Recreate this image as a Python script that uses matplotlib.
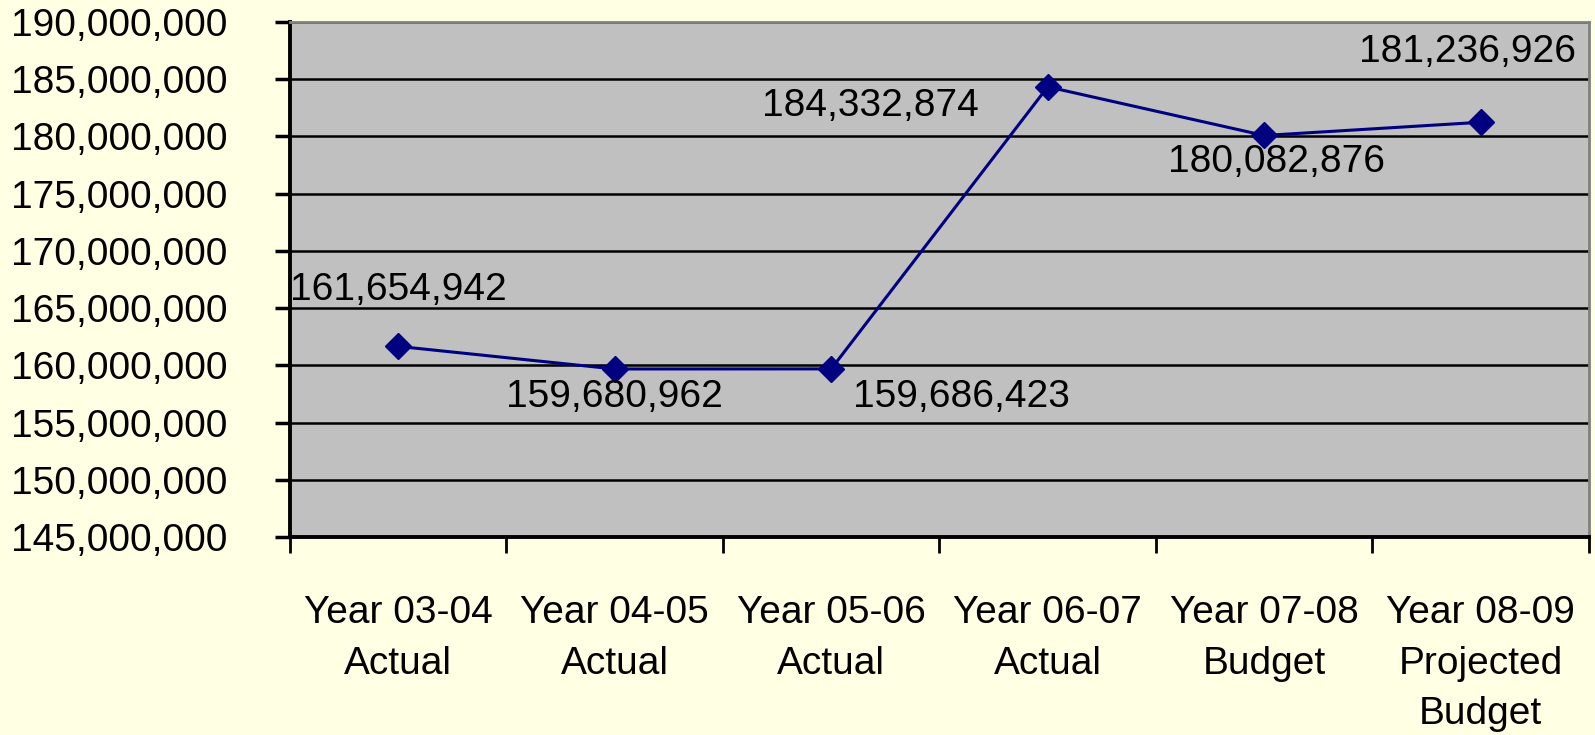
import matplotlib.pyplot as plt
from matplotlib.ticker import FuncFormatter, FixedLocator

plt.rcParams['font.family'] = ['Liberation Sans', 'DejaVu Sans']

years = ["Year 03-04\nActual", "Year 04-05\nActual", "Year 05-06\nActual",
         "Year 06-07\nActual", "Year 07-08\nBudget", "Year 08-09\nProjected\nBudget"]
amounts = [161654942, 159680962, 159686423, 184332874, 180082876, 181236926]
# label offsets in pixels from each point
label_offsets = [(0, 56), (0, -28), (130, -28), (-177, -19), (12, -27), (-13, 70)]

bg = "#FFFFE3"
fs = 28
fig = plt.figure(figsize=(15.95, 7.35), dpi=100, facecolor=bg)
ax = fig.add_axes([0.1818, 0.2694, 0.9962 - 0.1818, 0.9701 - 0.2694])
ax.set_facecolor("#C0C0C0")

xs = [i + 0.5 for i in range(len(amounts))]
ax.plot(xs, amounts, color="#000080", lw=2.2, marker="D", ms=13,
        markerfacecolor="#000080", markeredgecolor="#000080", zorder=3)

for x, v, off in zip(xs, amounts, label_offsets):
    ax.annotate(f"{v:,}", (x, v), xytext=off, textcoords="offset pixels",
                ha="center", va="center", fontsize=fs, color="black", zorder=4)

ax.set_xlim(0, len(amounts))
ax.set_ylim(145000000, 190000000)
ax.set_yticks(range(145000000, 190000001, 5000000))
ax.yaxis.set_major_formatter(FuncFormatter(lambda v, p: f"{int(v):,}"))
ax.yaxis.grid(True, color="black", lw=1.8)
ax.set_axisbelow(True)

# ticks between categories, labels at the category centres
ax.xaxis.set_major_locator(FixedLocator(range(len(amounts) + 1)))
ax.xaxis.set_minor_locator(FixedLocator(xs))
ax.set_xticklabels([""] * (len(amounts) + 1))
ax.set_xticklabels(years, minor=True)
ax.tick_params(axis="x", which="major", direction="out", length=11.5, width=2, color="black")
ax.tick_params(axis="x", which="minor", length=0, pad=42, labelsize=fs)
for lbl in ax.get_xticklabels(minor=True):
    lbl.set_linespacing(1.51)
    lbl.set_verticalalignment("top")
ax.tick_params(axis="y", direction="out", length=11, width=2.5, color="black",
               pad=34, labelsize=fs)

for side in ["left", "bottom"]:
    ax.spines[side].set_color("black")
    ax.spines[side].set_linewidth(2.8)
for side in ["top", "right"]:
    ax.spines[side].set_color("#808080")
    ax.spines[side].set_linewidth(2)

fig.savefig("out.png", dpi=100, facecolor=bg)
